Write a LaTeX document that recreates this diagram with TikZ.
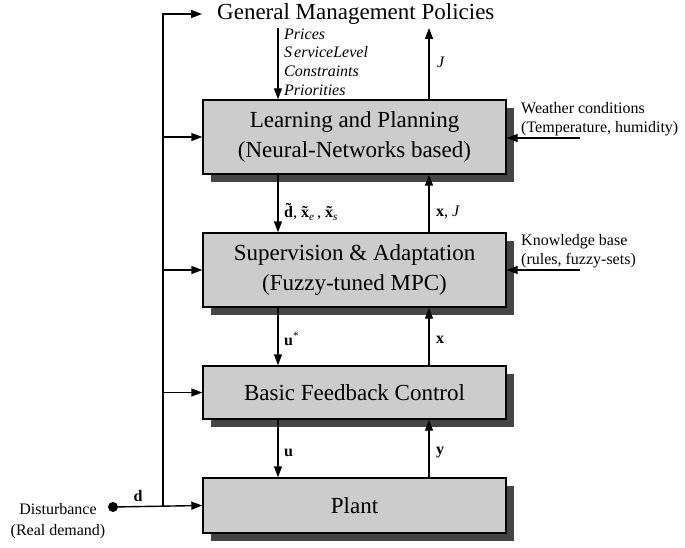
\documentclass[tikz,border=0pt]{standalone}
\usepackage{fontspec}
\setmainfont{Liberation Serif}
\usetikzlibrary{arrows.meta,shadows}
\definecolor{boxgray}{gray}{0.8}
\definecolor{shadowgray}{gray}{0.27}
\newcommand\tildeacc[1]{\accent"02DC #1}
\begin{document}
\begin{tikzpicture}[x=1pt,y=-1pt,
  blk/.style={draw=black, line width=1.4pt, fill=boxgray, minimum width=303pt,
    inner sep=0pt, align=center, font=\fontsize{23}{30}\selectfont,
    drop shadow={shadow xshift=8pt, shadow yshift=-8pt, fill=shadowgray, opacity=1}},
  lbl/.style={inner sep=0pt, anchor=west, font=\fontsize{16}{19}\selectfont},
  arr/.style={-{Triangle[length=11pt,width=8pt]}, line width=1.4pt},
  ln/.style={line width=1.4pt}]
\useasboundingbox (0,0) rectangle (685,548);
% blocks
\node[blk, minimum height=74pt] (learn) at (354.5,137) {Learning and Planning\\(Neural-Networks based)};
\node[blk, minimum height=74pt] (sup) at (354.5,270) {Supervision \& Adaptation\\(Fuzzy-tuned MPC)};
\node[blk, minimum height=53pt] (basic) at (354.5,392.5) {Basic Feedback Control};
\node[blk, minimum height=55pt] (plant) at (354.5,505.5) {Plant};
\node[inner sep=0pt, anchor=west, font=\fontsize{23}{28}\selectfont] (gmp) at (217,14) {General Management Policies};
% coordinates
\coordinate (bt) at (163,14);
\coordinate (bj) at (163,507);
\coordinate (ptop) at (278,28);
\coordinate (jtop) at (429,28);
\coordinate (wsrc) at (580,138);
\coordinate (ksrc) at (580,270);
% disturbance
\node[circle, fill=black, inner sep=0pt, minimum size=10pt] (dist) at (113,507) {};
\node[inner sep=0pt, align=center, font=\fontsize{16}{21}\selectfont] (distl) at (58,521) {Disturbance\\(Real demand)};
\node[inner sep=0pt, font=\fontsize{16}{19}\selectfont] (dl) at (138,496) {\textbf{d}};
% right-side inputs
\node[lbl, align=left] (weather) at (521,119) {Weather conditions\\(Temperature, humidity)};
\node[lbl, align=left] (know) at (521,251) {Knowledge base\\(rules, fuzzy-sets)};
% policy labels
\node[lbl, align=left, font=\fontsize{16}{18.7}\selectfont\itshape] (pol) at (284,62)
  {Prices\\S\kern2pt erviceLevel\\Constraints\\Priorities};
\node[lbl, font=\fontsize{16}{19}\selectfont\itshape] (jl) at (437,62) {J};
% signal labels
\node[lbl] (l1) at (284,212) {\textbf{\tildeacc{d}}, \textbf{\tildeacc{x}}\textsubscript{\textit{e}}\,, \textbf{\tildeacc{x}}\textsubscript{\textit{s}}};
\node[lbl] (l2) at (436,212) {\textbf{x}, \textit{J}};
\node[lbl] (l3) at (284,339) {\textbf{u}\textsuperscript{*}};
\node[lbl] (l4) at (436,340) {\textbf{x}};
\node[lbl] (l5) at (284,453) {\textbf{u}};
\node[lbl] (l6) at (436,453) {\textbf{y}};
% bus
\draw[arr] (dist.center) -- (plant.west);
\draw[arr, shorten >=15pt] (bj) -- (bt) -- (gmp.west);
\draw[arr] (bt |- learn.west) -- (learn.west);
\draw[arr] (bt |- sup.west) -- (sup.west);
\draw[arr] (bt |- basic.west) -- (basic.west);
% vertical signals
\draw[arr] (ptop) -- (ptop |- learn.north);
\draw[arr] (jtop |- learn.north) -- (jtop);
\draw[arr] (ptop |- learn.south) -- (ptop |- sup.north);
\draw[arr] (jtop |- sup.north) -- (jtop |- learn.south);
\draw[arr] (ptop |- sup.south) -- (ptop |- basic.north);
\draw[arr] (jtop |- basic.north) -- (jtop |- sup.south);
\draw[arr] (ptop |- basic.south) -- (ptop |- plant.north);
\draw[arr] (jtop |- plant.north) -- (jtop |- basic.south);
% right inputs
\draw[arr] (wsrc) -- (learn.east |- wsrc);
\draw[arr] (ksrc) -- (sup.east |- ksrc);
\end{tikzpicture}
\end{document}
